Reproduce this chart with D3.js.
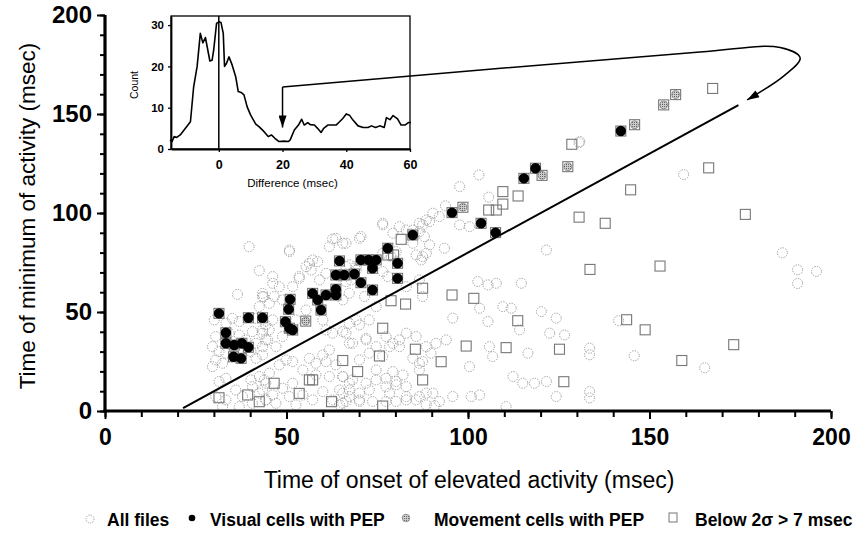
<!DOCTYPE html>
<html>
<head>
<meta charset="utf-8">
<script src="https://cdn.jsdelivr.net/npm/d3@7"></script>
<style>
  body { margin: 0; background: #fff; }
  svg { display: block; font-family: Arial, "Liberation Sans", sans-serif; }
</style>
</head>
<body>
<div id="graph"></div>
<script>
// main chart ticks
const xTicks = [0, 50, 100, 150, 200];
const yTicks = [0, 50, 100, 150, 200];
const minorTicks = d3.range(0, 201, 10);
// inset ticks
const insetXTicks = [0, 20, 40, 60];
const insetYTicks = [0, 10, 20, 30];

// inset histogram of (minimum - onset), msec vs count
const diffMs = [-15.3, -14.7, -14, -13.2, -12.1, -8.9, -7.9, -6.8, -5.8, -5, -4.2, -2.8, -2.1, -1.6, -0.7, 0, 0.7, 1.4, 1.8, 2.4, 3.2, 4.2, 5.3, 6.1, 7, 7.9, 8.9, 10, 11.6, 12.6, 14.2, 15.5, 16.5, 17.6, 18.9, 20.5, 21.8, 22.4, 23.7, 25, 26, 26.8, 27.9, 28.7, 30, 31, 32.1, 32.9, 34.2, 35.8, 36.8, 37.9, 38.9, 40, 41, 42.1, 43.7, 45.3, 46.8, 47.9, 49.2, 50.5, 51.9, 52.6, 53.7, 54.7, 56.1, 57.2, 58.4, 59.5, 60.3];
const diffCount = [2.2, 1.8, 3, 2.8, 3.4, 6.6, 15, 20, 28, 25.7, 27, 21.3, 21.5, 24, 30.4, 30.8, 30.6, 28, 20, 20.7, 22.3, 20.3, 17.5, 13.9, 13.7, 13.1, 10.2, 8.2, 6, 5.4, 4.2, 3, 3.4, 2.6, 1.8, 1.9, 1.8, 2.2, 4.6, 5.8, 7.2, 5.8, 6.4, 5.9, 5.8, 5, 4, 5, 5.8, 5.8, 5.8, 6.6, 7.4, 8.5, 8.2, 7, 5.6, 5.2, 5.2, 5.6, 5.2, 5.6, 5.2, 7.6, 7.1, 8.1, 7.3, 5.8, 5.8, 6.4, 6.4];

// [onset, minimum] in msec
const allFiles = [
  [39.7, 83], [50.8, 80.5], [62.7, 86.9], [66.4, 84.7], [42.5, 70.9], [36.5, 58.9], [43.7, 57.7], [46.2, 64.5], [43.4, 59.4], [56.3, 74.6], [58.6, 75.4], [53.5, 67],
  [30.1, 46], [33.3, 44.3], [35.1, 46.8], [37, 45.2], [41.6, 46.8], [44.3, 43.5], [40.6, 40.1], [43.4, 39.3], [45.2, 41], [37, 38.4], [34.2, 39.3], [30.5, 37.6], [29.6, 32.5], [31.4, 30], [41.6, 34.2], [43.4, 32.5], [44.8, 35.9], [41.6, 26.6], [43.4, 28.3], [30.5, 25.8], [32.4, 24.1], [29.6, 22.4], [33.3, 29.2], [40.2, 30], [38.8, 35.9],
  [30.5, 7.3], [33.3, 5.6], [36, 10.6], [37.9, 7.3], [40.6, 12.3], [42.5, 9], [44.3, 14], [44.3, 5.6], [40.6, 3.9], [37, 2.2], [32.4, 2.2], [42.5, 17.4], [40.2, 15.7], [31.4, 14.9], [33.3, 16.5],
  [43.4, 57.8], [48, 62.8], [46.2, 67.9], [50.8, 81.3], [55.4, 72.9], [57.2, 76.3], [56.8, 71.2], [61.8, 83], [65.5, 84.7], [63.6, 87.2], [70.1, 87.2], [81.1, 93.1], [76.5, 94.8], [86.6, 94.8], [88.5, 96.5], [84.8, 84.7], [87.5, 78], [51.7, 62.8], [53.5, 67.9], [59.1, 66.2], [60.9, 69.5], [66.4, 72.9], [67.8, 66.2], [69.2, 71.2], [86.6, 66.2], [83, 62.8], [46.6, 57.8], [48.9, 56.1], [42.5, 52.7], [45.3, 54.4],
  [43.4, 41], [46.2, 46], [44.3, 35.9], [47.1, 32.5], [48.9, 37.6], [52.6, 46], [55.4, 51], [60, 46], [60.9, 41],
  [62.7, 39.3], [65.5, 40.1], [67.3, 34.2], [70.1, 43.5], [71.9, 35.9], [51.7, 25], [49.9, 25.8], [48, 23.3], [45.3, 19.1], [43.9, 15.7], [43.4, 10.6], [46.2, 8.1], [56.3, 26.6], [58.1, 24.1], [60, 28.3], [61.8, 30.8], [60.9, 24.9], [63.6, 23.3], [54.5, 20.7], [58.1, 18.2], [61.8, 17.4], [65.5, 17.4], [67.3, 14], [51.7, 14], [48.9, 11.5], [50.8, 7.3], [54.5, 8.1], [57.2, 5.6], [60, 9.8], [64.6, 10.6], [67.3, 7.3], [70.1, 5.6], [44.3, 5.6], [47.1, 3.9], [52.6, 3.1],
  [71.9, 14], [74.7, 15.7], [77.4, 12.3], [80.2, 14.9], [83, 12.3], [82.1, 18.2], [79.3, 19.9], [74.7, 20.7], [72.8, 29.2], [70.1, 25.8], [74.7, 32.5], [79.3, 34.2], [83, 39.3], [85.7, 37.6], [77.4, 37.6], [81.1, 32.5], [84.8, 26.6], [87.5, 25], [86.6, 20.7], [67.3, 44.3], [69.2, 46], [72.8, 46], [83, 5.6], [86.6, 7.3], [88.5, 9], [77.4, 4.8], [62.7, 5.6], [65.5, 3.9],
  [103, 119.2], [97.7, 113.3], [105.7, 108], [93.8, 103.6], [92.1, 98.2], [90.3, 99.9], [97.7, 94], [100.4, 93.1], [87.5, 94], [89.4, 95.7], [76.5, 94], [79.3, 89.8], [83, 91.4], [84.8, 91.4], [86.6, 90.6], [88, 88.1], [89.4, 83.9], [88.5, 79.7], [93.5, 82.2], [70.5, 88.1],
  [76.5, 79.7], [80.2, 80.5], [78.8, 78], [85.7, 78.8], [87.1, 76.3], [67.3, 73.8], [69.2, 73], [76.5, 70.4], [77.9, 67.9], [64.6, 67.9], [66.4, 65.3], [67.3, 59.5], [71.5, 57.8], [74.7, 52.7], [65.5, 56.1],
  [102.7, 65.4], [105.5, 63.7], [107.8, 64.5], [114.7, 64.5], [87.5, 57.8], [103.2, 51.9], [109.6, 52.7], [111.9, 51.9], [120.2, 50.2], [124.3, 46.9], [95.8, 46.9], [105.5, 45.2], [114.2, 41], [122.5, 39.3], [126.6, 38.4], [94, 35.9], [91.2, 34.2], [88.5, 32.5], [89.8, 29.2], [86.6, 24.1], [81.1, 35.9], [78.4, 32.5], [76.5, 27.5], [71.9, 36.7], [68.2, 34.2], [66.4, 39.3],
  [105.9, 32.5], [106.8, 27.5], [116.5, 29.2], [100.4, 22.4], [133.5, 31.7], [112.4, 17.4], [115.1, 14], [118.3, 14], [121.6, 14.9], [133.5, 9.8], [124.3, 7.3], [103.2, 8.1], [100.9, 7.3], [95.8, 7.3], [90.3, 9], [92.1, 4.8], [90.8, 2.6], [88.5, 3.1], [83, 7.3], [85.7, 5.6], [80.2, 13.2], [77.4, 16.5], [78.4, 9], [80.2, 4.8], [72.8, 10.6], [70.1, 9], [67.3, 10.6], [65.5, 9], [73.7, 4.8], [70.1, 4.8], [66.4, 4.8], [64.6, 3.1], [68.2, 15.7], [65.5, 17.4], [110.5, 2.2], [130.8, 136.1], [121.6, 81.3],
  [159.4, 119.4], [186.6, 79.9], [190.8, 71.3], [196, 70.5], [190.8, 64.4], [141.5, 45.6], [133.5, 28.4], [145.8, 27.9], [165.2, 21.8], [133.5, 6.6], [130.6, 135.5]
];
const visualPEP = [
  [142.1, 141.4], [118.6, 122.6], [115.4, 117.5], [95.6, 100.2], [103.6, 94.8], [107.6, 90.1], [84.8, 88.9], [77.9, 82.2], [80.6, 74.6], [80.6, 67], [73.7, 72.1], [73.7, 61.1], [70.5, 76.3], [72.6, 76.3], [74.7, 76.3], [70.5, 64.8], [68.7, 69.2], [64.6, 75.8], [63.6, 68.7], [65.9, 68.7], [63.6, 61.5], [63.6, 58.6], [60.9, 58.6], [58.6, 56.1], [57.2, 59.4], [59.5, 51], [51, 56.4], [50.6, 51.4], [49.7, 45.1], [50.8, 41.8], [51.7, 40.9], [43.4, 47.1], [39.5, 47.1], [31.4, 49.3], [33.3, 39.5], [33.3, 34.2], [35.6, 33.3], [37.7, 34.2], [39.5, 32.2], [35.4, 27.4], [37.5, 26.6]
];
const movementPEP = [[157.2, 159.8], [153.9, 154.6], [145.9, 144.6], [127.5, 123.4], [120.4, 119], [98.6, 102.9], [55.3, 45.4]];
const below2Sigma = [
  [167.4, 162.9], [166.3, 122.8], [144.8, 111.7], [176.4, 99.3], [137.8, 94.8], [133.6, 71.5], [152.9, 73.2], [143.7, 46.1], [148.8, 41], [173.2, 33.5], [158.9, 25.5], [128.6, 134.7], [109.6, 110.8], [113.8, 108.6], [109.6, 104.5], [105.7, 101.5], [107.8, 101.5], [130.6, 97.9], [81.6, 86.7], [77.9, 78.8], [79.5, 78.8], [87.5, 62], [95.6, 58.6], [101.6, 56.9], [78.8, 55.7], [82.8, 54], [113.7, 45.6], [76.5, 41.8], [99.5, 32.8], [110.5, 32], [125.2, 31.2], [85.5, 31.2], [92.6, 24.9], [75.6, 27.8], [65.5, 25.5], [87.5, 15.7], [69.6, 19.9], [126.4, 14.8], [76.5, 2.5], [31.4, 6.7], [39.3, 8.1], [46.6, 14], [53.5, 8.9], [56.3, 15.7], [57.2, 15.7], [62.4, 4.7], [42.5, 4.7]
];
// minimum = onset + 20 msec reference line
const refLine = [[21.5, 1.5], [174.5, 154.5]];
// annotation arrow from the inset's 20 msec mark to the line end
const loopPts = [[163.9, 181.3], [186, 183.6], [191.5, 178.3], [187.2, 169.5], [176.9, 157.1]];

const legendItems = ["All files", "Visual cells with PEP", "Movement cells with PEP", "Below 2\u03c3 > 7 msec"];

const W = 859, H = 535;
const svg = d3.select("#graph").append("svg").attr("width", W).attr("height", H);
const defs = svg.append("defs");
defs.append("pattern").attr("id", "hatch").attr("width", 2).attr("height", 2).attr("patternUnits", "userSpaceOnUse")
  .call(p => p.append("rect").attr("width", 2).attr("height", 2).attr("fill", "#ccc"))
  .call(p => p.append("rect").attr("width", 1).attr("height", 1).attr("fill", "#666"));
defs.append("marker").attr("id", "head").attr("viewBox", "0 0 12 8").attr("refX", 12).attr("refY", 4)
  .attr("markerWidth", 13).attr("markerHeight", 8).attr("markerUnits", "userSpaceOnUse").attr("orient", "auto")
  .append("path").attr("d", "M0,0L12,4L0,8Z").attr("fill", "#000");

const x = d3.scaleLinear().domain([0, 200]).range([105, 831]);
const y = d3.scaleLinear().domain([0, 200]).range([411, 15]);

// scatter layers
svg.append("g").selectAll("circle").data(allFiles).join("circle")
  .attr("cx", d => x(d[0])).attr("cy", d => y(d[1])).attr("r", 5)
  .attr("fill", "none").attr("stroke", "#999").attr("stroke-width", 1).attr("stroke-dasharray", "1.3 1.3");

const sq = 10;
svg.append("g").selectAll("rect").data(below2Sigma.concat(movementPEP, visualPEP)).join("rect")
  .attr("x", d => x(d[0]) - sq / 2).attr("y", d => y(d[1]) - sq / 2).attr("width", sq).attr("height", sq)
  .attr("fill", "none").attr("stroke", "#777").attr("stroke-width", 1.1);

svg.append("g").selectAll("circle").data(movementPEP).join("circle")
  .attr("cx", d => x(d[0])).attr("cy", d => y(d[1])).attr("r", 4)
  .attr("fill", "url(#hatch)").attr("stroke", "#888").attr("stroke-width", 0.8);

svg.append("g").selectAll("circle").data(visualPEP).join("circle")
  .attr("cx", d => x(d[0])).attr("cy", d => y(d[1])).attr("r", 5.2).attr("fill", "#000");

svg.append("path").datum(refLine)
  .attr("d", d3.line().x(d => x(d[0])).y(d => y(d[1])))
  .attr("stroke", "#000").attr("stroke-width", 2).attr("fill", "none");

// main axes
const styleAxis = (g, size, weight, lw) => {
  g.attr("font-family", null).attr("font-size", null);
  g.selectAll("text").attr("font-size", size).attr("font-weight", weight).attr("fill", "#000");
  g.selectAll(".tick line").attr("stroke-width", lw);
};
svg.append("g").attr("transform", `translate(0,${y(0)})`)
  .call(d3.axisBottom(x).tickValues(minorTicks).tickSize(6).tickFormat(""))
  .call(g => g.select(".domain").remove())
  .call(g => g.selectAll(".tick line").attr("stroke-width", 2));
svg.append("g").attr("transform", `translate(0,${y(0)})`)
  .call(d3.axisBottom(x).tickValues(xTicks).tickSize(8).tickSizeOuter(0).tickPadding(10))
  .call(g => styleAxis(g, 23, "bold", 2))
  .call(g => g.select(".domain").attr("stroke-width", 3.2).attr("d", `M${x(0) - 1.5},0H${x(200)}`));
svg.append("g").attr("transform", `translate(${x(0)},0)`)
  .call(d3.axisLeft(y).tickValues(minorTicks).tickSize(5).tickFormat(""))
  .call(g => g.select(".domain").remove())
  .call(g => g.selectAll(".tick line").attr("stroke-width", 2));
svg.append("g").attr("transform", `translate(${x(0)},0)`)
  .call(d3.axisLeft(y).tickValues(yTicks).tickSize(8).tickSizeOuter(0).tickPadding(5))
  .call(g => styleAxis(g, 24, "bold", 2))
  .call(g => g.select(".domain").attr("stroke-width", 3.2).attr("d", `M0,${y(200)}V${y(0) + 1.5}`));

svg.append("text").attr("x", 469).attr("y", 488).attr("text-anchor", "middle")
  .attr("font-size", 23).text("Time of onset of elevated activity (msec)");
svg.append("text").attr("transform", "translate(35,216) rotate(-90)").attr("text-anchor", "middle")
  .attr("font-size", 22.5).text("Time of minimum of activity (msec)");

// inset
const ix = d3.scaleLinear().domain([-15, 60]).range([171, 410]);
const iy = d3.scaleLinear().domain([0, 32.2]).range([149, 16]);
const inset = svg.append("g");
inset.append("rect").attr("x", ix(-15)).attr("y", iy(32.2)).attr("width", ix(60) - ix(-15)).attr("height", iy(0) - iy(32.2))
  .attr("fill", "#fff").attr("stroke", "#000").attr("stroke-width", 1.3);
inset.append("g").attr("transform", `translate(0,${iy(0)})`)
  .call(d3.axisBottom(ix).tickValues(insetXTicks).tickSize(3).tickSizeOuter(0).tickPadding(8))
  .call(g => styleAxis(g, 12.5, "bold", 1.3))
  .call(g => g.select(".domain").attr("stroke-width", 1.8));
inset.append("g").attr("transform", `translate(${ix(-15)},0)`)
  .call(d3.axisLeft(iy).tickValues(insetYTicks).tickSize(3).tickSizeOuter(0).tickPadding(4))
  .call(g => styleAxis(g, 11.5, "bold", 1.3))
  .call(g => g.select(".domain").attr("stroke-width", 1.8));
inset.append("line").attr("x1", ix(0)).attr("x2", ix(0)).attr("y1", iy(0)).attr("y2", iy(32.2))
  .attr("stroke", "#000").attr("stroke-width", 1.5);
inset.append("path").datum(d3.zip(diffMs, diffCount))
  .attr("d", d3.line().x(d => ix(d[0])).y(d => iy(d[1])))
  .attr("fill", "none").attr("stroke", "#000").attr("stroke-width", 1.6).attr("stroke-linejoin", "round");
inset.append("text").attr("x", (ix(-15) + ix(60)) / 2 + 2).attr("y", 187).attr("text-anchor", "middle")
  .attr("font-size", 11.5).text("Difference (msec)");
inset.append("text").attr("transform", "translate(138,85) rotate(-90)").attr("text-anchor", "middle")
  .attr("font-size", 10.5).text("Count");

// annotation arrows
inset.append("line").attr("x1", ix(20)).attr("x2", ix(20)).attr("y1", iy(15)).attr("y2", iy(5.2))
  .attr("stroke", "#000").attr("stroke-width", 1.5).attr("marker-end", "url(#head)");
const arrowPts = [[ix(20), iy(15)]].concat(loopPts.map(d => [x(d[0]), y(d[1])]));
svg.append("path").datum(arrowPts)
  .attr("d", d3.line().curve(d3.curveCatmullRom.alpha(0.5)))
  .attr("fill", "none").attr("stroke", "#000").attr("stroke-width", 1.5).attr("marker-end", "url(#head)");

// legend
const lg = svg.append("g").attr("font-size", 17.5).attr("font-weight", "bold");
const lgX = [90, 192, 406, 673];
const lgTextX = [107, 210, 434, 695];
const lgY = 520;
lg.selectAll("text").data(legendItems).join("text")
  .attr("x", (d, i) => lgTextX[i]).attr("y", lgY + 6).text(d => d);
lg.append("circle").attr("cx", lgX[0]).attr("cy", lgY - 1).attr("r", 4)
  .attr("fill", "none").attr("stroke", "#999").attr("stroke-dasharray", "1.2 1.2");
lg.append("circle").attr("cx", lgX[1]).attr("cy", lgY - 2).attr("r", 3.3).attr("fill", "#000");
lg.append("circle").attr("cx", lgX[2]).attr("cy", lgY - 2).attr("r", 3.8)
  .attr("fill", "url(#hatch)").attr("stroke", "#888").attr("stroke-width", 0.8);
lg.append("rect").attr("x", lgX[3] - 4).attr("y", lgY - 7).attr("width", 8).attr("height", 9)
  .attr("fill", "none").attr("stroke", "#777").attr("stroke-width", 1);
</script>
</body>
</html>
